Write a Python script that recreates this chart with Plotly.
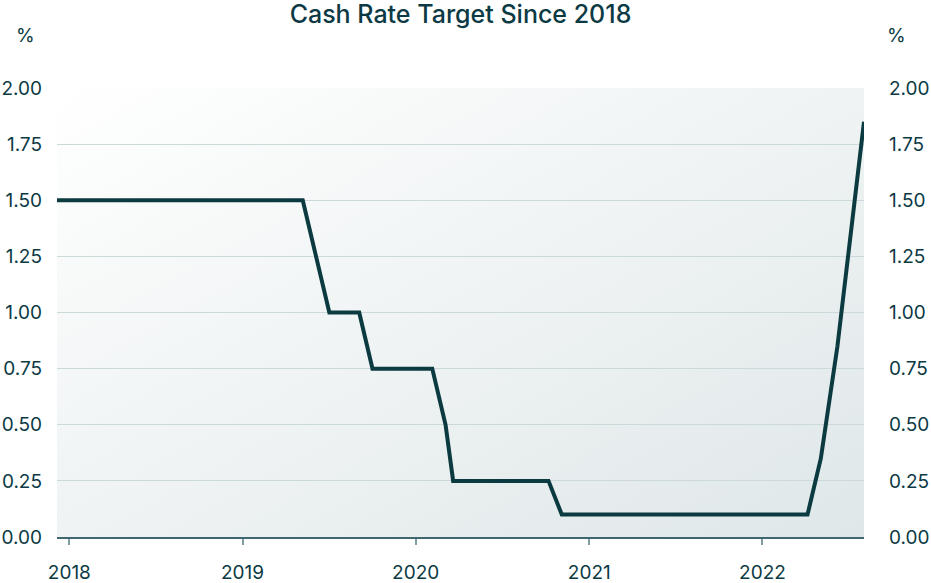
import base64
import plotly.graph_objects as go

# RBA meeting / decision dates and cash rate target (%)
dates = [
    "2017-12-06",
    "2018-02-07", "2018-03-07", "2018-04-04", "2018-05-02", "2018-06-06", "2018-07-04",
    "2018-08-08", "2018-09-05", "2018-10-03", "2018-11-07", "2018-12-05",
    "2019-02-06", "2019-03-06", "2019-04-03", "2019-05-08", "2019-06-05", "2019-07-03",
    "2019-08-07", "2019-09-04", "2019-10-02", "2019-11-06", "2019-12-04",
    "2020-02-05", "2020-03-04", "2020-03-20", "2020-04-08", "2020-05-06", "2020-06-03",
    "2020-07-08", "2020-08-05", "2020-09-02", "2020-10-07", "2020-11-04", "2020-12-02",
    "2021-02-03", "2021-03-03", "2021-04-07", "2021-05-05", "2021-06-02", "2021-07-07",
    "2021-08-04", "2021-09-08", "2021-10-06", "2021-11-03", "2021-12-08",
    "2022-02-02", "2022-03-02", "2022-04-06", "2022-05-04", "2022-06-08", "2022-07-06",
    "2022-08-03",
]
rates = [
    1.50,
    1.50, 1.50, 1.50, 1.50, 1.50, 1.50,
    1.50, 1.50, 1.50, 1.50, 1.50,
    1.50, 1.50, 1.50, 1.50, 1.25, 1.00,
    1.00, 1.00, 0.75, 0.75, 0.75,
    0.75, 0.50, 0.25, 0.25, 0.25, 0.25,
    0.25, 0.25, 0.25, 0.25, 0.10, 0.10,
    0.10, 0.10, 0.10, 0.10, 0.10, 0.10,
    0.10, 0.10, 0.10, 0.10, 0.10,
    0.10, 0.10, 0.10, 0.35, 0.85, 1.35,
    1.85,
]
year_ticks = ["2018-01-01", "2019-01-01", "2020-01-01", "2021-01-01", "2022-01-01"]
year_labels = ["2018", "2019", "2020", "2021", "2022"]
y_ticks = [0, 0.25, 0.5, 0.75, 1.0, 1.25, 1.5, 1.75, 2.0]
y_labels = ["0.00", "0.25", "0.50", "0.75", "1.00", "1.25", "1.50", "1.75", "2.00"]

TXT = "#0c3a44"
LINE = "#0b3a40"
GRID = "#cbd9db"
FONT = "Inter"

svg = (
    '<svg xmlns="http://www.w3.org/2000/svg" width="800" height="450" preserveAspectRatio="none">'
    '<defs><linearGradient id="g" x1="0" y1="0" x2="1" y2="1">'
    '<stop offset="0" stop-color="#ffffff"/><stop offset="1" stop-color="#dfe7e8"/>'
    '</linearGradient></defs><rect width="800" height="450" fill="url(#g)"/></svg>'
)
src = "data:image/svg+xml;base64," + base64.b64encode(svg.encode()).decode()

fig = go.Figure()
fig.add_trace(go.Scatter(x=dates, y=rates, mode="lines",
                         line=dict(color=LINE, width=4), hoverinfo="x+y",
                         showlegend=False))
fig.add_trace(go.Scatter(x=dates, y=rates, mode="lines", yaxis="y2",
                         line=dict(color="rgba(0,0,0,0)", width=0), hoverinfo="skip",
                         showlegend=False))

axis_font = dict(family=FONT, size=19, color=TXT)
fig.update_layout(
    width=931, height=583,
    margin=dict(l=57, r=67, t=88, b=46),
    paper_bgcolor="white",
    plot_bgcolor="rgba(0,0,0,0)",
    title=dict(text="Cash Rate Target Since 2018", x=0.5, xref="paper", xanchor="center",
               y=0.976, yanchor="middle",
               font=dict(family=FONT, size=25, color=TXT, weight=500)),
    images=[dict(source=src, xref="paper", yref="paper", x=0, y=1,
                 sizex=1, sizey=1, sizing="stretch", layer="below",
                 xanchor="left", yanchor="top")],
    xaxis=dict(type="date", range=["2017-12-06", "2022-08-03"],
               tickvals=year_ticks, ticktext=year_labels,
               ticks="outside", ticklen=6, tickcolor="#7f9ea3", tickwidth=1.5,
               ticklabelstandoff=11, automargin=False,
               showgrid=False, showline=True, linecolor="#3f6770", linewidth=1.5,
               tickfont=axis_font, zeroline=False),
    yaxis=dict(range=[0, 2], tickvals=y_ticks, ticktext=y_labels,
               showgrid=True, gridcolor=GRID, gridwidth=1.2, automargin=False,
               zeroline=False, ticks="", ticklabelstandoff=14,
               tickfont=axis_font, fixedrange=True),
    yaxis2=dict(range=[0, 2], tickvals=y_ticks, ticktext=y_labels,
                overlaying="y", side="right", showgrid=False, zeroline=False,
                automargin=False,
                ticks="", ticklabelstandoff=24, tickfont=axis_font),
    annotations=[
        dict(text="%", xref="paper", yref="paper", x=-0.039, y=1.116,
             xanchor="center", yanchor="middle", showarrow=False,
             font=dict(family=FONT, size=19, color=TXT)),
        dict(text="%", xref="paper", yref="paper", x=1.0397, y=1.116,
             xanchor="center", yanchor="middle", showarrow=False,
             font=dict(family=FONT, size=19, color=TXT)),
    ],
)

fig.write_html("out.html", config={"displayModeBar": False},
               post_script="document.body.style.margin='0';")
